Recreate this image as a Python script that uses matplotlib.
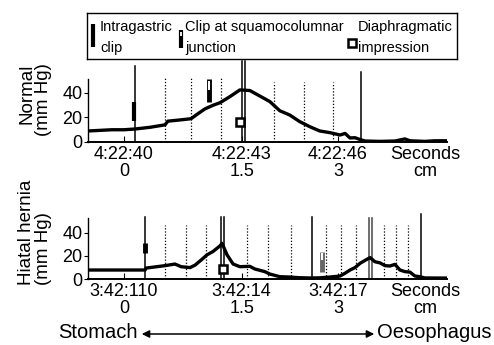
import matplotlib
matplotlib.use("Agg")
import matplotlib.pyplot as plt
from matplotlib.patches import FancyArrowPatch

plt.rcParams['font.family'] = ['Liberation Sans', 'DejaVu Sans']

# ---- data (time in seconds from first labelled tick, pressure in mm Hg) ----
normal_t = [-1.01, -0.67, -0.34, 0.0, 0.31, 0.73, 1.15, 1.23, 1.57, 1.88, 2.07, 2.27,
            2.50, 2.69, 2.97, 3.25, 3.53, 3.81, 4.09, 4.37, 4.65, 4.93, 5.21, 5.49,
            5.78, 6.06, 6.20, 6.34, 6.48, 6.62, 6.76, 7.18, 7.60, 7.88, 8.02, 8.44,
            8.72, 9.06]
normal_p = [9, 9.5, 10, 10, 10.6, 12, 14, 17, 18, 19, 23, 27,
            30, 32, 37, 42.5, 42, 37.5, 33, 25.5, 22, 16.6, 12.5, 9,
            7.6, 5.7, 7, 3.3, 3.5, 2, 0.8, 0.5, 0.8, 2.5, 1, 0.5,
            1, 1]

hernia_t = [-1.01, 0.59, 0.62, 1.15, 1.43, 1.60, 1.85, 1.99, 2.13, 2.33, 2.50, 2.69,
            2.75, 2.89, 3.06, 3.25, 3.53, 3.67, 3.95, 4.09, 4.37, 4.65, 4.93, 5.21,
            5.49, 5.78, 6.06, 6.20, 6.34, 6.48, 6.62, 6.78, 6.90, 7.04, 7.18, 7.32,
            7.46, 7.60, 7.74, 7.88, 8.02, 8.16, 8.30, 8.44, 9.06]
hernia_p = [7.8, 7.8, 9.5, 11.6, 13, 10.7, 9.9, 12, 15.6, 21, 24, 28.7,
            31, 21, 13, 10.7, 11, 8.7, 6.4, 4.3, 2, 1.7, 1.1, 0.9,
            1, 1.7, 2.6, 5, 7.8, 9.9, 13.6, 16.5, 18.6, 15, 14, 11.6,
            11.3, 12.7, 7.8, 6.4, 6, 2.6, 2, 0.9, 0.8]

# vertical reference lines: (time, top value)
normal_solid = [(0.31, 62), (3.30, 66), (3.39, 66), (6.64, 57)]
normal_dotted = [(1.15, 53), (1.88, 53), (2.72, 53), (4.21, 49), (5.05, 49), (5.86, 49)]
hernia_solid = [(0.59, 54), (2.72, 54), (2.80, 54), (5.27, 54), (8.33, 56.5)]
hernia_grey = [(6.87, 53), (6.95, 53)]
hernia_dotted = [(1.15, 47), (1.74, 47), (2.30, 47), (3.45, 47), (4.04, 47), (4.68, 47),
                 (5.66, 47), (6.08, 47), (6.50, 47), (7.29, 47), (7.63, 47), (7.96, 47)]

# markers
normal_gastric_clip = (0.28, 17, 32.6)
normal_sc_clip = (2.38, 33, 41.6, 51)
normal_diaphragm = (3.25, 16)
hernia_gastric_clip = (0.59, 22.6, 31)
hernia_sc_clip = (5.55, 6, 15, 23.5)
hernia_diaphragm = (2.78, 8.7)

tick_pos = [0, 3.3, 6]
normal_labels = ['4:22:40\n0', '4:22:43\n1.5', '4:22:46\n3']
hernia_labels = ['3:42:110\n0', '3:42:14\n1.5', '3:42:17\n3']
unit_pos = 8.44

W, H = 494, 345
fig = plt.figure(figsize=(W / 100, H / 100), dpi=100)


def px_axes(x0, y_base, x1, y_top):
    return fig.add_axes([x0 / W, 1 - y_base / H, (x1 - x0) / W, (y_base - y_top) / H])


def draw_clip(ax, x, y0, ymid, y1, col='black'):
    ax.plot([x, x], [y0, y1], color=col, lw=3.5, solid_capstyle='butt', zorder=5)
    ax.plot([x, x], [ymid + 1.2, y1 - 1.2], color='white', lw=1.5, solid_capstyle='butt', zorder=6)


def panel(ax, t, p, solid, dotted, labels, ylim):
    ax.plot(t, p, color='black', lw=2.4, zorder=3)
    for x, top in solid:
        ax.plot([x, x], [0, top], color='black', lw=1.1, clip_on=False, zorder=2)
    for x, top in dotted:
        ax.plot([x, x], [0, top], color='black', lw=0.9, ls=(0, (1, 1.5)), clip_on=False, zorder=2)
    ax.set_xlim(-1.01, 9.06)
    ax.set_ylim(0, ylim)
    ax.set_yticks([0, 20, 40])
    ax.set_xticks(tick_pos + [unit_pos])
    ax.set_xticklabels(labels + ['Seconds\ncm'], linespacing=0.95)
    ax.xaxis.get_major_ticks()[3].tick1line.set_visible(False)
    ax.tick_params(axis='x', direction='in', length=4, pad=3, labelsize=13)
    ax.tick_params(axis='y', direction='out', length=3, pad=1, labelsize=13)
    for s in ('top', 'right'):
        ax.spines[s].set_visible(False)
    ax.spines['bottom'].set_linewidth(1.4)
    ax.spines['left'].set_linewidth(1.0)


ax1 = px_axes(88, 142, 447, 79.5)
panel(ax1, normal_t, normal_p, normal_solid, normal_dotted, normal_labels, 51)
x, a, b = normal_gastric_clip
ax1.plot([x, x], [a, b], color='black', lw=3, solid_capstyle='butt', zorder=5)
draw_clip(ax1, *normal_sc_clip)
ax1.plot(*normal_diaphragm, marker='s', ms=6, mfc='white', mec='black', mew=1.8, zorder=6)

ax2 = px_axes(88, 279, 447, 218)
panel(ax2, hernia_t, hernia_p, hernia_solid, hernia_dotted, hernia_labels, 53)
for x, top in hernia_grey:
    ax2.plot([x, x], [0, top], color='#555555', lw=1.2, clip_on=False, zorder=2)
x, a, b = hernia_gastric_clip
ax2.plot([x, x], [a, b], color='black', lw=3.5, solid_capstyle='butt', zorder=5)
draw_clip(ax2, *hernia_sc_clip, col='#666666')
ax2.plot(*hernia_diaphragm, marker='s', ms=6, mfc='white', mec='black', mew=1.8, zorder=6)

# y labels
fig.text(35 / W, 1 - 100 / H, 'Normal\n(mm Hg)', rotation=90, ha='center', va='center',
         fontsize=13.5, linespacing=0.95, multialignment='right')
fig.text(35 / W, 1 - 232 / H, 'Hiatal hernia\n(mm Hg)', rotation=90, ha='center', va='center',
         fontsize=13.5, linespacing=0.95, multialignment='left')

# legend box
lg = fig.add_axes([87 / W, 1 - 59 / H, 370 / W, 46 / H])
lg.set_xlim(0, 370)
lg.set_ylim(46, 0)
lg.set_xticks([])
lg.set_yticks([])
for s in lg.spines.values():
    s.set_linewidth(1.0)
lg.plot([6, 6], [11, 34], color='black', lw=3, solid_capstyle='butt')
lg.plot([94, 94], [17, 35], color='black', lw=3, solid_capstyle='butt')
lg.plot([94, 94], [18.5, 23], color='white', lw=1.3, solid_capstyle='butt')
lg.plot(265, 30, marker='s', ms=6, mfc='white', mec='black', mew=1.8)
for xx, txt in [(13, 'Intragastric\nclip'), (98, 'Clip at squamocolumnar\njunction'),
                (271, 'Diaphragmatic\nimpression')]:
    lg.text(xx, 24.5, txt, ha='left', va='center', fontsize=10.5, linespacing=1.55)

# stomach / oesophagus arrow
fig.text(138 / W, 1 - 333 / H, 'Stomach', ha='right', va='center', fontsize=14.5)
fig.text(377 / W, 1 - 333 / H, 'Oesophagus', ha='left', va='center', fontsize=14.5)
fig.add_artist(FancyArrowPatch((139 / W, 1 - 334 / H), (377 / W, 1 - 334 / H),
                               transform=fig.transFigure, arrowstyle='<|-|>',
                               mutation_scale=11, lw=1.1, color='black'))

fig.savefig('out.png', dpi=100)
